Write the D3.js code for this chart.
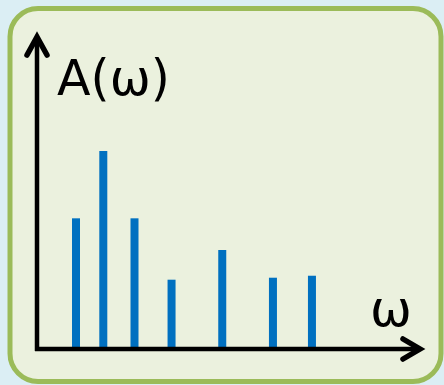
<!DOCTYPE html>
<html>
<head>
<meta charset="utf-8">
<script src="https://cdn.jsdelivr.net/npm/d3@7"></script>
<style>
  html, body { margin: 0; padding: 0; background: #dbeef4; }
  svg { display: block; }
</style>
</head>
<body>
<div id="chart"></div>
<script>
// spectral lines: frequency and amplitude
const omegas = [1.0, 1.7, 2.5, 3.45, 4.75, 6.05, 7.05];
const amplitudes = [0.66, 1.0, 0.66, 0.35, 0.5, 0.36, 0.37];
const yLabel = 'A(\u03c9)';
const xLabel = '\u03c9';

const width = 444, height = 385;
const svg = d3.select('#chart').append('svg')
    .attr('width', width)
    .attr('height', height);

// panel
svg.append('rect')
    .attr('x', 10).attr('y', 8.5)
    .attr('width', 431).attr('height', 373)
    .attr('rx', 28).attr('ry', 28)
    .attr('fill', '#ebf1de')
    .attr('stroke', '#9bbb59')
    .attr('stroke-width', 5);

const x = d3.scaleLinear().domain([0, 10]).range([37, 427]);
const y = d3.scaleLinear().domain([0, 1]).range([349, 151]);

// bars
svg.selectAll('rect.bar')
    .data(omegas)
    .enter()
    .append('rect')
    .attr('class', 'bar')
    .attr('x', d => x(d) - 4)
    .attr('width', 8)
    .attr('y', (d, i) => y(amplitudes[i]))
    .attr('height', (d, i) => y(0) - y(amplitudes[i]))
    .attr('fill', '#0070c0');

// axes
let axes = svg.append('g')
    .attr('stroke', '#000')
    .attr('stroke-width', 4.5)
    .attr('fill', 'none');

axes.append('line')
    .attr('x1', 37).attr('y1', 351)
    .attr('x2', 37).attr('y2', 37);
axes.append('line')
    .attr('x1', 35).attr('y1', 349)
    .attr('x2', 420).attr('y2', 349);

axes.append('path')
    .attr('d', 'M27,55 L37,37 L47,55')
    .attr('stroke-width', 5.5)
    .attr('stroke-linejoin', 'miter')
    .attr('stroke-linecap', 'round');
axes.append('path')
    .attr('d', 'M403,339 L420,349 L403,359')
    .attr('stroke-width', 5.5)
    .attr('stroke-linejoin', 'miter')
    .attr('stroke-linecap', 'round');

// labels
svg.append('text')
    .attr('x', 57).attr('y', 95)
    .attr('font-family', 'DejaVu Sans, sans-serif')
    .attr('font-size', 49)
    .attr('fill', '#000')
    .text(yLabel);

svg.append('text')
    .attr('x', 370).attr('y', 326)
    .attr('font-family', 'DejaVu Sans, sans-serif')
    .attr('font-size', 50)
    .attr('fill', '#000')
    .text(xLabel);
</script>
</body>
</html>
